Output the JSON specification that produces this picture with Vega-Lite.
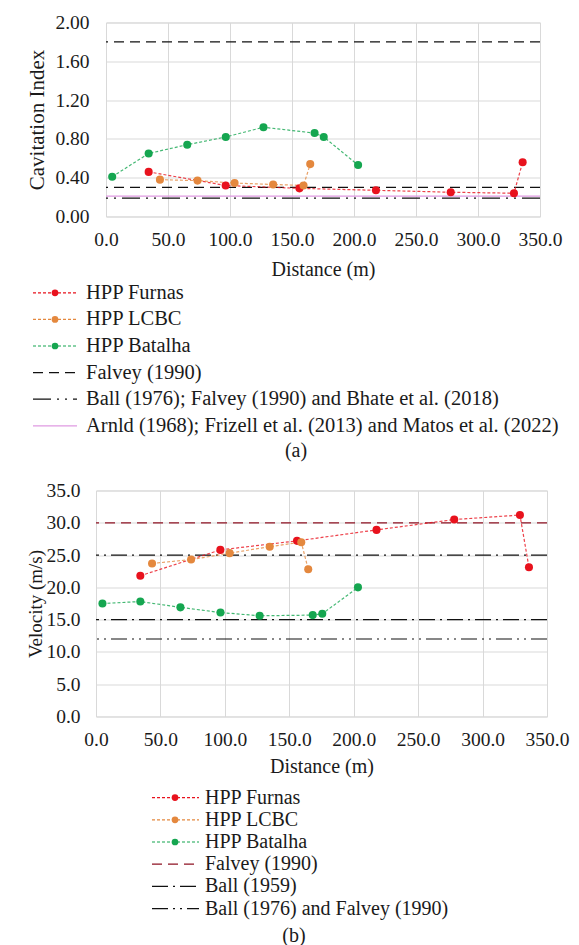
{
  "$schema": "https://vega.github.io/schema/vega-lite/v6.json",
  "background": "white",
  "padding": {"left": 25, "top": 11.5, "right": 5, "bottom": 5},
  "config": {
    "font": "Liberation Serif",
    "view": {"stroke": "#d9d9d9"},
    "axis": {"grid": true, "gridColor": "#d9d9d9", "gridWidth": 1, "domain": false, "ticks": false, "tickSize": 0, "labelColor": "#1a1a1a", "titleColor": "#1a1a1a", "labelFontSize": 19.5, "titleFontSize": 20, "titleFontWeight": "normal", "labelOverlap": false, "labelFlush": false, "labelBound": false, "labelFont": "Liberation Serif", "titleFont": "Liberation Serif"},
    "title": {"font": "Liberation Serif", "fontSize": 20, "fontWeight": "normal", "color": "#1a1a1a"}
  },
  "datasets": {
    "ci": [
      {"series": "HPP Furnas", "distance": 34.4, "index": 0.46},
      {"series": "HPP Furnas", "distance": 96.5, "index": 0.32},
      {"series": "HPP Furnas", "distance": 156, "index": 0.29},
      {"series": "HPP Furnas", "distance": 217.7, "index": 0.27},
      {"series": "HPP Furnas", "distance": 278, "index": 0.25},
      {"series": "HPP Furnas", "distance": 329, "index": 0.24},
      {"series": "HPP Furnas", "distance": 336, "index": 0.56},
      {"series": "HPP LCBC", "distance": 43.5, "index": 0.38},
      {"series": "HPP LCBC", "distance": 73.8, "index": 0.37},
      {"series": "HPP LCBC", "distance": 103.7, "index": 0.345},
      {"series": "HPP LCBC", "distance": 134.8, "index": 0.33},
      {"series": "HPP LCBC", "distance": 159.3, "index": 0.32},
      {"series": "HPP LCBC", "distance": 164.7, "index": 0.54},
      {"series": "HPP Batalha", "distance": 5, "index": 0.41},
      {"series": "HPP Batalha", "distance": 34.4, "index": 0.65},
      {"series": "HPP Batalha", "distance": 65.5, "index": 0.74},
      {"series": "HPP Batalha", "distance": 96.6, "index": 0.82},
      {"series": "HPP Batalha", "distance": 127, "index": 0.92},
      {"series": "HPP Batalha", "distance": 168.2, "index": 0.86},
      {"series": "HPP Batalha", "distance": 175.6, "index": 0.82},
      {"series": "HPP Batalha", "distance": 203.3, "index": 0.53}
    ],
    "ciref": [
      {"series": "Arnld (1968); Frizell et al. (2013) and Matos et al. (2022)", "index": 0.21},
      {"series": "Falvey (1990)", "index": 1.8},
      {"series": "Falvey (1990)", "index": 0.3},
      {"series": "Ball (1976); Falvey (1990) and Bhate et al. (2018)", "index": 0.19}
    ],
    "cileg": [
      {"series": "HPP Furnas"},
      {"series": "HPP LCBC"},
      {"series": "HPP Batalha"},
      {"series": "Falvey (1990)"},
      {"series": "Ball (1976); Falvey (1990) and Bhate et al. (2018)"},
      {"series": "Arnld (1968); Frizell et al. (2013) and Matos et al. (2022)"}
    ],
    "vel": [
      {"series": "HPP Furnas", "distance": 34.4, "velocity": 21.8},
      {"series": "HPP Furnas", "distance": 96.5, "velocity": 25.8},
      {"series": "HPP Furnas", "distance": 156, "velocity": 27.2},
      {"series": "HPP Furnas", "distance": 217.7, "velocity": 28.9},
      {"series": "HPP Furnas", "distance": 278, "velocity": 30.5},
      {"series": "HPP Furnas", "distance": 329, "velocity": 31.2},
      {"series": "HPP Furnas", "distance": 336, "velocity": 23.1},
      {"series": "HPP LCBC", "distance": 43.5, "velocity": 23.7},
      {"series": "HPP LCBC", "distance": 73.8, "velocity": 24.3},
      {"series": "HPP LCBC", "distance": 103.7, "velocity": 25.3},
      {"series": "HPP LCBC", "distance": 134.8, "velocity": 26.3},
      {"series": "HPP LCBC", "distance": 159.3, "velocity": 27.0},
      {"series": "HPP LCBC", "distance": 164.7, "velocity": 22.8},
      {"series": "HPP Batalha", "distance": 5, "velocity": 17.5},
      {"series": "HPP Batalha", "distance": 34.4, "velocity": 17.8},
      {"series": "HPP Batalha", "distance": 65.5, "velocity": 16.9},
      {"series": "HPP Batalha", "distance": 96.6, "velocity": 16.1},
      {"series": "HPP Batalha", "distance": 127, "velocity": 15.6},
      {"series": "HPP Batalha", "distance": 168.2, "velocity": 15.7},
      {"series": "HPP Batalha", "distance": 175.6, "velocity": 15.9},
      {"series": "HPP Batalha", "distance": 203.3, "velocity": 20.0}
    ],
    "velref": [
      {"series": "Falvey (1990)", "velocity": 30},
      {"series": "Ball (1959)", "velocity": 25},
      {"series": "Ball (1959)", "velocity": 15},
      {"series": "Ball (1976) and Falvey (1990)", "velocity": 12}
    ],
    "velleg": [
      {"series": "HPP Furnas"},
      {"series": "HPP LCBC"},
      {"series": "HPP Batalha"},
      {"series": "Falvey (1990)"},
      {"series": "Ball (1959)"},
      {"series": "Ball (1976) and Falvey (1990)"}
    ]
  },
  "columns": 1,
  "spacing": 18,
  "resolve": {"scale": {"color": "independent", "strokeDash": "independent", "strokeWidth": "independent"}},
  "concat": [
    {
      "columns": 1,
      "spacing": 0,
      "concat": [
        {
          "spacing": 0,
          "hconcat": [
            {"width": 1, "height": 1, "view": {"stroke": null}, "data": {"values": [{"series": "none"}]}, "mark": {"type": "point", "opacity": 0, "size": 0}, "encoding": {}},
            {
              "width": 434,
              "height": 194,
              "layer": [
                {
                  "data": {"name": "ciref"},
                  "mark": {"type": "rule"},
                  "encoding": {
                    "y": {"field": "index", "type": "quantitative", "scale": {"domain": [0, 2], "nice": false}, "axis": {"values": [0, 0.4, 0.8, 1.2, 1.6, 2], "format": ".2f", "title": "Cavitation Index", "labelPadding": 17, "titlePadding": 7, "titleFontSize": 21, "labelOverlap": false}},
                    "color": {"field": "series", "type": "nominal", "legend": null, "scale": {"domain": ["HPP Furnas", "HPP LCBC", "HPP Batalha", "Falvey (1990)", "Ball (1976); Falvey (1990) and Bhate et al. (2018)", "Arnld (1968); Frizell et al. (2013) and Matos et al. (2022)"], "range": ["#e8121d", "#e4883e", "#15a650", "#111111", "#111111", "#e09ae2"]}},
                    "strokeDash": {"field": "series", "type": "nominal", "legend": null, "scale": {"domain": ["HPP Furnas", "HPP LCBC", "HPP Batalha", "Falvey (1990)", "Ball (1976); Falvey (1990) and Bhate et al. (2018)", "Arnld (1968); Frizell et al. (2013) and Matos et al. (2022)"], "range": [[3, 2], [3, 2], [3, 2], [10, 6], [18, 6, 2, 6, 2, 6], [1, 0]]}},
                    "strokeWidth": {"field": "series", "type": "nominal", "legend": null, "scale": {"domain": ["HPP Furnas", "HPP LCBC", "HPP Batalha", "Falvey (1990)", "Ball (1976); Falvey (1990) and Bhate et al. (2018)", "Arnld (1968); Frizell et al. (2013) and Matos et al. (2022)"], "range": [1.2, 1.2, 1.2, 3, 3, 3.5]}}
                  }
                },
                {
                  "data": {"name": "ci"},
                  "mark": {"type": "line", "strokeDash": [3, 2], "strokeWidth": 1.2, "opacity": 0.8},
                  "encoding": {
                    "x": {"field": "distance", "type": "quantitative", "scale": {"domain": [0, 350], "nice": false}, "axis": {"values": [0, 50, 100, 150, 200, 250, 300, 350], "format": ".1f", "title": "Distance (m)", "labelPadding": 14, "titlePadding": 10, "labelOverlap": false}},
                    "y": {"field": "index", "type": "quantitative", "axis": {"values": [0, 0.4, 0.8, 1.2, 1.6, 2], "format": ".2f", "title": "Cavitation Index", "labelPadding": 17, "titlePadding": 7, "titleFontSize": 21, "labelOverlap": false}},
                    "color": {"field": "series", "type": "nominal", "legend": null}
                  }
                },
                {
                  "data": {"name": "ci"},
                  "mark": {"type": "point", "filled": true, "size": 65, "opacity": 1},
                  "encoding": {
                    "x": {"field": "distance", "type": "quantitative"},
                    "y": {"field": "index", "type": "quantitative", "axis": {"values": [0, 0.4, 0.8, 1.2, 1.6, 2], "format": ".2f", "title": "Cavitation Index", "labelPadding": 17, "titlePadding": 7, "titleFontSize": 21, "labelOverlap": false}},
                    "color": {"field": "series", "type": "nominal", "legend": null}
                  }
                }
              ]
            }
          ]
        },
        {
          "width": 542,
          "height": {"step": 26.6},
          "view": {"stroke": null},
          "data": {"name": "cileg"},
          "title": {"text": "(a)", "orient": "bottom", "anchor": "middle", "frame": "group", "offset": 2},
          "encoding": {"y": {"field": "series", "type": "nominal", "axis": null, "sort": ["HPP Furnas", "HPP LCBC", "HPP Batalha", "Falvey (1990)", "Ball (1976); Falvey (1990) and Bhate et al. (2018)", "Arnld (1968); Frizell et al. (2013) and Matos et al. (2022)"]}},
          "layer": [
            {
              "mark": {"type": "rule"},
              "encoding": {
                "x": {"datum": 8, "type": "quantitative", "scale": {"domain": [0, 542], "nice": false, "zero": false}, "axis": null},
                "x2": {"datum": 52},
                "color": {"field": "series", "type": "nominal", "legend": null},
                "strokeDash": {"field": "series", "type": "nominal", "legend": null},
                "strokeWidth": {"field": "series", "type": "nominal", "legend": null}
              }
            },
            {
              "transform": [{"filter": {"field": "series", "oneOf": ["HPP Furnas", "HPP LCBC", "HPP Batalha"]}}],
              "mark": {"type": "point", "filled": true, "size": 45, "opacity": 1},
              "encoding": {
                "x": {"datum": 30, "type": "quantitative"},
                "color": {"field": "series", "type": "nominal", "legend": null}
              }
            },
            {
              "mark": {"type": "text", "align": "left", "baseline": "middle", "fontSize": 20.5, "color": "#1a1a1a"},
              "encoding": {
                "x": {"datum": 61, "type": "quantitative"},
                "text": {"field": "series"}
              }
            }
          ]
        }
      ]
    },
    {
      "columns": 1,
      "spacing": 10,
      "concat": [
        {
          "spacing": 0,
          "hconcat": [
            {"width": 1, "height": 1, "view": {"stroke": null}, "data": {"values": [{"series": "none"}]}, "mark": {"type": "point", "opacity": 0, "size": 0}, "encoding": {}},
            {
              "width": 451,
              "height": 226,
              "layer": [
                {
                  "data": {"name": "velref"},
                  "mark": {"type": "rule"},
                  "encoding": {
                    "y": {"field": "velocity", "type": "quantitative", "scale": {"domain": [0, 35], "nice": false}, "axis": {"values": [0, 5, 10, 15, 20, 25, 30, 35], "format": ".1f", "title": "Velocity (m/s)", "labelPadding": 16, "titlePadding": 0, "titleFontSize": 19, "labelOverlap": false}},
                    "color": {"field": "series", "type": "nominal", "legend": null, "scale": {"domain": ["HPP Furnas", "HPP LCBC", "HPP Batalha", "Falvey (1990)", "Ball (1959)", "Ball (1976) and Falvey (1990)"], "range": ["#e8121d", "#e4883e", "#15a650", "#8e1223", "#111111", "#111111"]}},
                    "strokeDash": {"field": "series", "type": "nominal", "legend": null, "scale": {"domain": ["HPP Furnas", "HPP LCBC", "HPP Batalha", "Falvey (1990)", "Ball (1959)", "Ball (1976) and Falvey (1990)"], "range": [[3, 2], [3, 2], [3, 2], [10, 6], [16, 5, 2, 5], [16, 5, 2, 5, 2, 5]]}},
                    "strokeWidth": {"field": "series", "type": "nominal", "legend": null, "scale": {"domain": ["HPP Furnas", "HPP LCBC", "HPP Batalha", "Falvey (1990)", "Ball (1959)", "Ball (1976) and Falvey (1990)"], "range": [1.2, 1.2, 1.2, 3, 3, 3]}}
                  }
                },
                {
                  "data": {"name": "vel"},
                  "mark": {"type": "line", "strokeDash": [3, 2], "strokeWidth": 1.2, "opacity": 0.8},
                  "encoding": {
                    "x": {"field": "distance", "type": "quantitative", "scale": {"domain": [0, 350], "nice": false}, "axis": {"values": [0, 50, 100, 150, 200, 250, 300, 350], "format": ".1f", "title": "Distance (m)", "labelPadding": 14, "titlePadding": 7, "labelOverlap": false}},
                    "y": {"field": "velocity", "type": "quantitative", "axis": {"values": [0, 5, 10, 15, 20, 25, 30, 35], "format": ".1f", "title": "Velocity (m/s)", "labelPadding": 16, "titlePadding": 0, "titleFontSize": 19, "labelOverlap": false}},
                    "color": {"field": "series", "type": "nominal", "legend": null}
                  }
                },
                {
                  "data": {"name": "vel"},
                  "mark": {"type": "point", "filled": true, "size": 65, "opacity": 1},
                  "encoding": {
                    "x": {"field": "distance", "type": "quantitative"},
                    "y": {"field": "velocity", "type": "quantitative", "axis": {"values": [0, 5, 10, 15, 20, 25, 30, 35], "format": ".1f", "title": "Velocity (m/s)", "labelPadding": 16, "titlePadding": 0, "titleFontSize": 19, "labelOverlap": false}},
                    "color": {"field": "series", "type": "nominal", "legend": null}
                  }
                }
              ]
            }
          ]
        },
        {
          "width": 538,
          "height": {"step": 22.2},
          "view": {"stroke": null},
          "data": {"name": "velleg"},
          "title": {"text": "(b)", "orient": "bottom", "anchor": "middle", "frame": "group", "offset": 6},
          "encoding": {"y": {"field": "series", "type": "nominal", "axis": null, "sort": ["HPP Furnas", "HPP LCBC", "HPP Batalha", "Falvey (1990)", "Ball (1959)", "Ball (1976) and Falvey (1990)"]}},
          "layer": [
            {
              "mark": {"type": "rule"},
              "encoding": {
                "x": {"datum": 127, "type": "quantitative", "scale": {"domain": [0, 538], "nice": false, "zero": false}, "axis": null},
                "x2": {"datum": 174},
                "color": {"field": "series", "type": "nominal", "legend": null},
                "strokeDash": {"field": "series", "type": "nominal", "legend": null},
                "strokeWidth": {"field": "series", "type": "nominal", "legend": null}
              }
            },
            {
              "transform": [{"filter": {"field": "series", "oneOf": ["HPP Furnas", "HPP LCBC", "HPP Batalha"]}}],
              "mark": {"type": "point", "filled": true, "size": 45, "opacity": 1},
              "encoding": {
                "x": {"datum": 150, "type": "quantitative"},
                "color": {"field": "series", "type": "nominal", "legend": null}
              }
            },
            {
              "mark": {"type": "text", "align": "left", "baseline": "middle", "fontSize": 20, "color": "#1a1a1a"},
              "encoding": {
                "x": {"datum": 180, "type": "quantitative"},
                "text": {"field": "series"}
              }
            }
          ]
        }
      ]
    }
  ]
}
